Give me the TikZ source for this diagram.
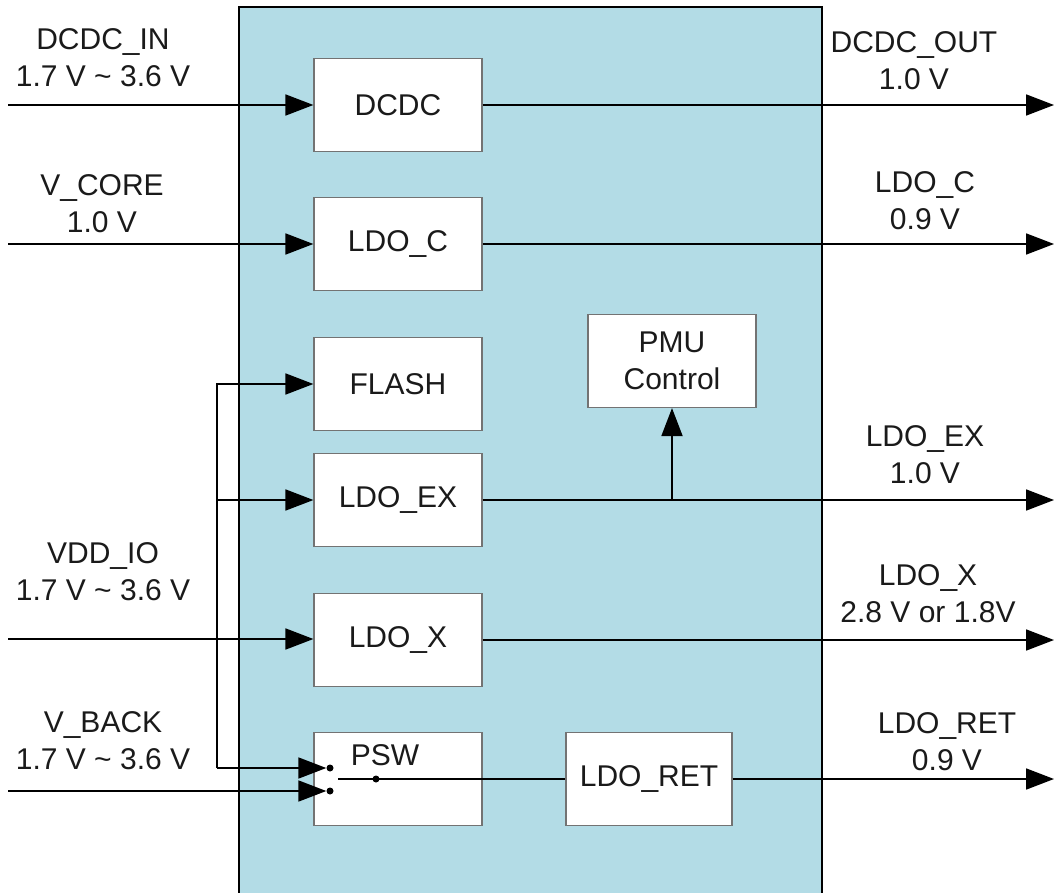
\documentclass[tikz,border=0pt]{standalone}
\usepackage{fontspec}
\setmainfont{Liberation Sans}
\usetikzlibrary{arrows.meta}
\newcommand\lblfont{\fontsize{30}{37}\selectfont}
\definecolor{chipblue}{HTML}{B3DCE6}
\definecolor{txt}{HTML}{1A1A1A}
\begin{document}
\begin{tikzpicture}[x=1pt,y=-1pt,
  blk/.style={draw=black!55,line width=1.2pt,fill=white,minimum width=168pt,minimum height=93pt,inner sep=0pt,font=\lblfont,text=txt,align=center},
  lbl/.style={font=\lblfont,text=txt,align=center,inner sep=0pt},
  wire/.style={line width=1.8pt,black},
  arr/.style={wire,-{Triangle[length=28pt,width=21pt]}},
  dotc/.style={circle,fill=black,inner sep=0pt,minimum size=7pt}]
\useasboundingbox (0,0) rectangle (1057,893);
\clip (0,0) rectangle (1057,893);
% chip body
\draw[line width=2pt,fill=chipblue] (239,7) rectangle (822,905);
% blocks
\node[blk] (dcdc)  at (398,105) {DCDC};
\node[blk] (ldoc)  at (398,244) {LDO\_C};
\node[blk] (flash) at (398,384) {FLASH};
\node[blk] (ldoex) at (398,500) {LDO\_EX};
\node[blk] (ldox)  at (398,640) {LDO\_X};
\node[blk] (psw)   at (398,779) {};
\node[lbl] (pswl)  at (385,755) {PSW};
\node[blk,minimum width=166pt] (ldoret) at (649,779) {LDO\_RET};
\node[blk] (pmu)   at (672,361) {PMU\\Control};
% coordinates
\coordinate (in1) at (8,105);
\coordinate (in2) at (8,244);
\coordinate (in3) at (8,639);
\coordinate (in4) at (8,791);
\coordinate (o1) at (1054,105);
\coordinate (o2) at (1054,244);
\coordinate (o3) at (1054,500);
\coordinate (o4) at (1054,640);
\coordinate (o5) at (1054,779);
\coordinate (busb) at (217,768);
\coordinate (busm) at (217,500);
\coordinate (tap) at (672,500);
\node[dotc] (sa) at (330,768) {};
\node[dotc] (sb) at (330,791) {};
\coordinate (arm) at (338,779);
\node[dotc] (pivot) at (376,779) {};
% inputs
\draw[arr] (in1) -- (dcdc.west);
\draw[arr] (in2) -- (ldoc.west);
\draw[arr] (in3) -- (ldox.west |- in3);
\draw[arr] (busb) |- (flash.west);
\draw[arr] (busm) -- (ldoex.west);
\draw[arr] (busb) -- (sa.west);
\draw[arr] (in4) -- (sb.west);
\draw[wire] (arm) -- (ldoret.west);
% outputs
\draw[arr] (dcdc.east) -- (o1);
\draw[arr] (ldoc.east) -- (o2);
\draw[arr] (ldoex.east) -- (o3);
\draw[arr] (ldox.east) -- (o4);
\draw[arr] (ldoret.east) -- (o5);
\draw[arr] (tap) -- (pmu.south);
% labels
\node[lbl] (l1) at (103,58) {DCDC\_IN\\1.7 V \textasciitilde{} 3.6 V};
\node[lbl] (l2) at (102,204) {V\_CORE\\1.0 V};
\node[lbl] (l3) at (103,572) {VDD\_IO\\1.7 V \textasciitilde{} 3.6 V};
\node[lbl] (l4) at (103,741) {V\_BACK\\1.7 V \textasciitilde{} 3.6 V};
\node[lbl] (r1) at (914,61) {DCDC\_OUT\\1.0 V};
\node[lbl] (r2) at (925,201) {LDO\_C\\0.9 V};
\node[lbl] (r3) at (925,455) {LDO\_EX\\1.0 V};
\node[lbl] (r4) at (928,594) {LDO\_X\\2.8 V or 1.8V};
\node[lbl] (r5) at (947,742) {LDO\_RET\\0.9 V};
\end{tikzpicture}
\end{document}
